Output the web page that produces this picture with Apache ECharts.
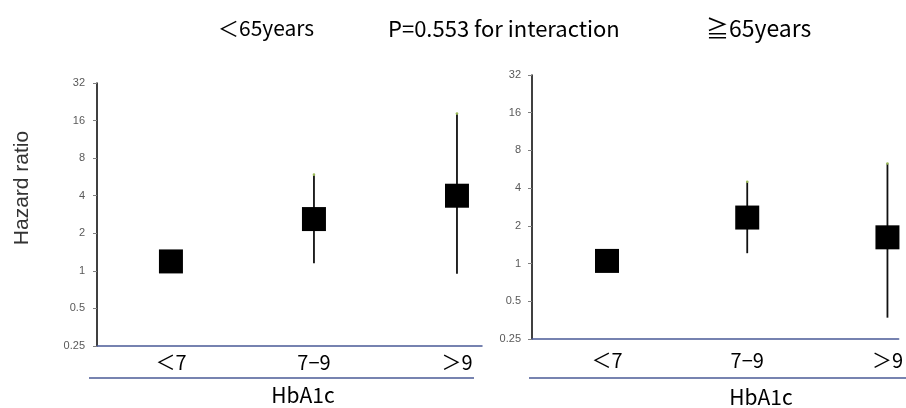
<!DOCTYPE html>
<html>
<head>
<meta charset="utf-8">
<script src="https://cdn.jsdelivr.net/npm/echarts@6/dist/echarts.min.js"></script>
<style>html,body{margin:0;padding:0;background:#fff}#c{width:906px;height:408px}</style>
</head>
<body>
<div id="c"></div>
<script>
const categories = ['＜7', '7−9', '＞9'];
const yTicks = [0.25, 0.5, 1, 2, 4, 8, 16, 32];
const titles = ['＜65years', 'P=0.553 for interaction', '≧65years'];
const xTitle = 'HbA1c';
const yTitle = 'Hazard ratio';

// <65 years
const youngHR = [1.19, 2.6, 4.0];
const youngLow = [null, 1.15, 0.95];
const youngHigh = [null, 5.9, 18.2];
// >=65 years
const oldHR = [1.05, 2.33, 1.62];
const oldLow = [null, 1.21, 0.37];
const oldHigh = [null, 4.5, 6.3];

const FONT = '"Noto Sans CJK JP", "Liberation Sans", sans-serif';
const chart = echarts.init(document.getElementById('c'), null, {renderer: 'canvas'});

function xAxisCfg(gi, min, max, margin) {
  return {
    type: 'value', gridIndex: gi, min: min, max: max,
    splitLine: {show: false},
    axisLine: {show: true, onZero: false, lineStyle: {color: '#4a5a96', width: 1.5}},
    axisTick: {show: false},
    axisLabel: {
      customValues: [0, 1, 2],
      formatter: v => categories[Math.round(v)],
      color: '#000', fontSize: 20, fontFamily: FONT, margin: margin
    }
  };
}
function yAxisCfg(gi, margin) {
  return {
    type: 'log', logBase: 2, gridIndex: gi, min: yTicks[0], max: yTicks[yTicks.length - 1], interval: 1,
    splitLine: {show: false},
    axisLine: {show: true, onZero: false, lineStyle: {color: '#000', width: 1.5}},
    axisTick: {show: true, length: 4, lineStyle: {color: '#808080'}},
    axisLabel: {
      color: '#595959', fontSize: 11, fontFamily: '"Liberation Sans", sans-serif', margin: margin,
      formatter: v => String(+(+v).toPrecision(3))
    }
  };
}
function ciSeries(gi, low, high) {
  const data = categories.map((c, i) => [i, low[i], high[i]]).filter(d => d[1] != null);
  return {
    type: 'custom', xAxisIndex: gi, yAxisIndex: gi, clip: false, z: 2,
    data: data,
    renderItem: function (params, api) {
      const p1 = api.coord([api.value(0), api.value(1)]);
      const p2 = api.coord([api.value(0), api.value(2)]);
      return {
        type: 'group',
        children: [
          {type: 'line', shape: {x1: p1[0], y1: p1[1], x2: p2[0], y2: p2[1]}, style: {stroke: '#111', lineWidth: 1.8}},
          {type: 'circle', shape: {cx: p2[0], cy: p2[1], r: 1.3}, style: {fill: '#9bbb59'}}
        ]
      };
    }
  };
}
function hrSeries(gi, hr) {
  return {
    type: 'scatter', xAxisIndex: gi, yAxisIndex: gi, clip: false, z: 3,
    symbol: 'rect', symbolSize: 24,
    itemStyle: {color: '#000', opacity: 1},
    data: hr.map((v, i) => [i, v])
  };
}

const ts = (size) => ({fontFamily: FONT, fontSize: size, fontWeight: 'normal', color: '#000'});
chart.setOption({
  animation: false,
  backgroundColor: '#fff',
  title: [
    {text: titles[0], left: 213, top: 13, textStyle: ts(21)},
    {text: titles[1], left: 383, top: 13, textStyle: ts(22)},
    {text: titles[2], left: 701, top: 12, textStyle: ts(23)}
  ],
  grid: [
    {left: 97, top: 83, width: 385, height: 263},
    {left: 532, top: 75, width: 374, height: 264}
  ],
  xAxis: [xAxisCfg(0, -0.517, 2.175, 6), xAxisCfg(1, -0.535, 2.08, 11)],
  yAxis: [yAxisCfg(0, 12), yAxisCfg(1, 11)],
  series: [
    ciSeries(0, youngLow, youngHigh), hrSeries(0, youngHR),
    ciSeries(1, oldLow, oldHigh), hrSeries(1, oldHR)
  ],
  graphic: [
    {type: 'line', shape: {x1: 89, y1: 378, x2: 474, y2: 378}, style: {stroke: '#4a5a96', lineWidth: 1.5}},
    {type: 'line', shape: {x1: 529, y1: 378, x2: 906, y2: 378}, style: {stroke: '#4a5a96', lineWidth: 1.5}},
    {type: 'text', x: 303, y: 395, style: {text: xTitle, fontFamily: FONT, fontSize: 21, fill: '#000', textAlign: 'center', textVerticalAlign: 'middle'}},
    {type: 'text', x: 761, y: 397, style: {text: xTitle, fontFamily: FONT, fontSize: 21, fill: '#000', textAlign: 'center', textVerticalAlign: 'middle'}},
    {type: 'text', x: 22, y: 188, rotation: Math.PI / 2, style: {text: yTitle, fontFamily: '"Liberation Sans", sans-serif', fontSize: 21, fill: '#333', textAlign: 'center', textVerticalAlign: 'middle'}}
  ]
});
</script>
</body>
</html>
